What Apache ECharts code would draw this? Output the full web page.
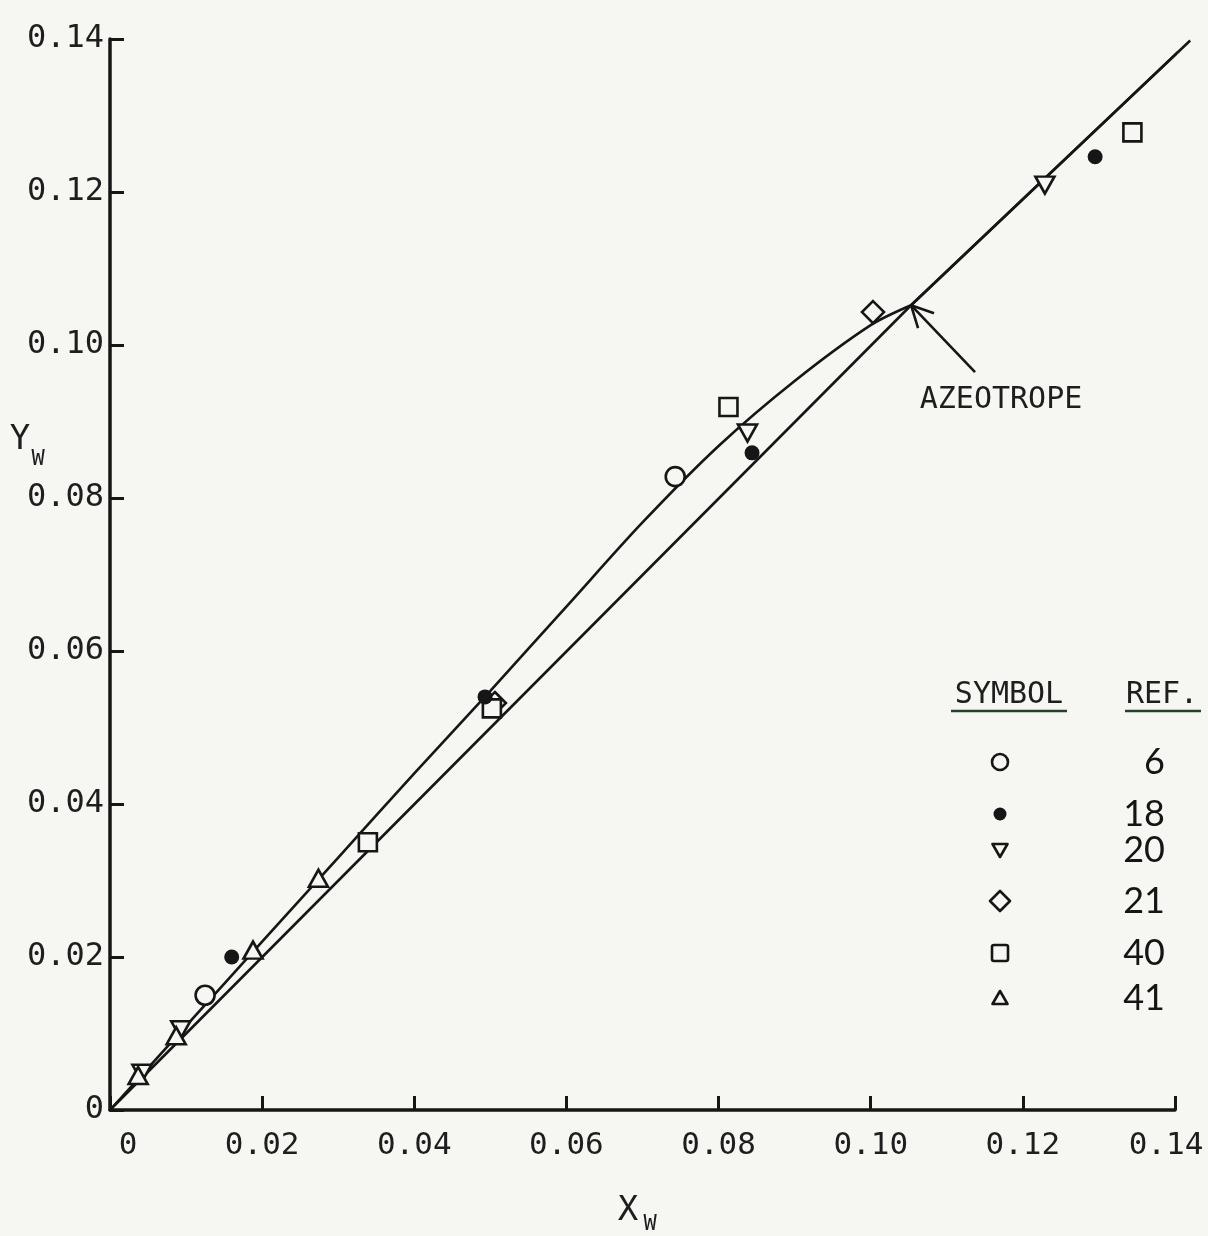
<!DOCTYPE html>
<html>
<head>
<meta charset="utf-8">
<script src="https://cdn.jsdelivr.net/npm/echarts@6/dist/echarts.min.js"></script>
<style>
html,body{margin:0;padding:0;background:#f6f6f3;}
#chart{width:1208px;height:1236px;}
</style>
</head>
<body>
<div id="chart"></div>
<script>
// ---- data ----
const xTicks = [0, 0.02, 0.04, 0.06, 0.08, 0.10, 0.12, 0.14];
const yTicks = [0, 0.02, 0.04, 0.06, 0.08, 0.10, 0.12, 0.14];

// straight line through the azeotrope (last point lies just past the x axis end)
const diagX = [0, 0.1053, 0.1420];
const diagY = [0, 0.1052, 0.1398];

// curved line from origin to azeotrope
const curveX = [0, 0.010, 0.020, 0.030, 0.040, 0.050, 0.060, 0.070, 0.080, 0.090, 0.100, 0.1053];
const curveY = [0, 0.0110, 0.0220, 0.0330, 0.0440, 0.0548, 0.0658, 0.0768, 0.0868, 0.0953, 0.1026, 0.1052];

// symbols by reference
const ref6  = [[0.0125, 0.0150], [0.0743, 0.0828]];                                   // open circle
const ref18 = [[0.0160, 0.0200], [0.0493, 0.0540], [0.0844, 0.0859], [0.1295, 0.1246]]; // filled circle
const ref20 = [[0.1229, 0.1209], [0.0838, 0.0885], [0.0093, 0.0105], [0.0042, 0.0048]]; // inverted triangle
const ref21 = [[0.1003, 0.1043], [0.0506, 0.0532]];                                   // diamond
const ref40 = [[0.0339, 0.0350], [0.0813, 0.0919], [0.1344, 0.1278], [0.0502, 0.0525]]; // square
const ref41 = [[0.0037, 0.0045], [0.0087, 0.0097], [0.0188, 0.0209], [0.0274, 0.0303]]; // triangle

const legendRefs = ['6', '18', '20', '21', '40', '41'];
const azeotrope = [0.1053, 0.1052];

// ---- chart ----
const BG = '#f6f6f3';
const INK = '#161616';
const MONO = '"DejaVu Sans Mono", monospace';

const chart = echarts.init(document.getElementById('chart'), null, {renderer: 'canvas'});

function zip(xs, ys) { return xs.map((x, i) => [x, ys[i]]); }

const hollow = {color: BG, borderColor: INK, borderWidth: 2.6, opacity: 1};

const option = {
  backgroundColor: BG,
  animation: false,
  grid: {left: 110, right: 33, top: 39, bottom: 126, outerBoundsMode: 'none', containLabel: false},
  xAxis: {
    type: 'value', min: 0, max: 0.14, interval: 0.02,
    axisLine: {show: true, lineStyle: {color: INK, width: 3.5}},
    axisTick: {show: true, inside: true, length: 14, lineStyle: {color: INK, width: 3}},
    splitLine: {show: false},
    axisLabel: {
      margin: 20, color: '#1e1e1e', fontFamily: MONO, fontSize: 31,
      formatter: v => {
        const i = xTicks.findIndex(t => Math.abs(t - v) < 1e-9);
        if (i === 0) return '{z|0}';
        if (i === xTicks.length - 1) return '{e|' + xTicks[i].toFixed(2) + '}';
        return i >= 0 ? xTicks[i].toFixed(2) : '';
      },
      rich: {
        z: {fontFamily: MONO, fontSize: 31, color: '#1e1e1e', padding: [0, 0, 0, 36]},
        e: {fontFamily: MONO, fontSize: 31, color: '#1e1e1e', padding: [0, 18, 0, 0]}
      }
    }
  },
  yAxis: {
    type: 'value', min: 0, max: 0.14, interval: 0.02,
    axisLine: {show: true, lineStyle: {color: INK, width: 3.5}},
    axisTick: {show: true, inside: true, length: 14, lineStyle: {color: INK, width: 3}},
    splitLine: {show: false},
    axisLabel: {
      margin: 6, color: '#1e1e1e', fontFamily: MONO, fontSize: 32,
      formatter: v => {
        const i = yTicks.findIndex(t => Math.abs(t - v) < 1e-9);
        if (i === 0) return '0';
        return i >= 0 ? yTicks[i].toFixed(2) : '';
      }
    }
  },
  series: [
    {type: 'line', data: zip(diagX, diagY), symbol: 'none', clip: false, lineStyle: {color: INK, width: 2.6}, z: 2},
    {type: 'line', data: zip(curveX, curveY), symbol: 'none', smooth: 0.3, clip: false, lineStyle: {color: INK, width: 2.6}, z: 2},
    {type: 'scatter', name: '6', data: ref6, symbol: 'circle', symbolSize: 19, itemStyle: hollow, z: 5},
    {type: 'scatter', name: '18', data: ref18, symbol: 'circle', symbolSize: 15, itemStyle: {color: INK, opacity: 1}, z: 6},
    {type: 'scatter', name: '20', data: ref20, symbol: 'triangle', symbolRotate: 180, symbolSize: [19, 17], itemStyle: hollow, z: 5},
    {type: 'scatter', name: '21', data: ref21, symbol: 'diamond', symbolSize: [22, 22], itemStyle: hollow, z: 5},
    {type: 'scatter', name: '40', data: ref40, symbol: 'rect', symbolSize: 18, itemStyle: hollow, z: 5},
    {type: 'scatter', name: '41', data: ref41, symbol: 'triangle', symbolSize: [19, 17], itemStyle: hollow, z: 5}
  ]
};
chart.setOption(option);

// ---- annotations & legend ----
const head = chart.convertToPixel({gridIndex: 0}, azeotrope);
const tail = [head[0] + 64, head[1] + 67];
// extension of the straight line past the axis end (the series is clipped at the grid)
const n = diagX.length;
const extA = chart.convertToPixel({gridIndex: 0}, [diagX[n - 2], diagY[n - 2]]);
const extB = chart.convertToPixel({gridIndex: 0}, [diagX[n - 1], diagY[n - 1]]);

function txt(text, x, y, size, opts) {
  return {
    type: 'text', z: 20,
    style: Object.assign({text: text, x: x, y: y, font: size + 'px ' + MONO, fill: '#1e1e1e',
      align: 'center', verticalAlign: 'middle'}, opts || {})
  };
}
function ln(x1, y1, x2, y2, color, w, z) {
  return {type: 'line', z: z || 20, shape: {x1, y1, x2, y2}, style: {stroke: color || INK, lineWidth: w || 2.6}};
}

const legendYs = [762, 814, 850, 901, 953, 998];
const legendSym = [];
const lx = 1000;
legendSym.push({type: 'circle', z: 20, shape: {cx: lx, cy: legendYs[0], r: 8}, style: {fill: BG, stroke: INK, lineWidth: 2.6}});
legendSym.push({type: 'circle', z: 20, shape: {cx: lx, cy: legendYs[1], r: 6.5}, style: {fill: INK}});
legendSym.push({type: 'polygon', z: 20, shape: {points: [[lx - 7.5, legendYs[2] - 6], [lx + 7.5, legendYs[2] - 6], [lx, legendYs[2] + 7]]}, style: {fill: BG, stroke: INK, lineWidth: 2.6, lineJoin: 'round'}});
legendSym.push({type: 'polygon', z: 20, shape: {points: [[lx, legendYs[3] - 10], [lx + 10, legendYs[3]], [lx, legendYs[3] + 10], [lx - 10, legendYs[3]]]}, style: {fill: BG, stroke: INK, lineWidth: 2.6, lineJoin: 'round'}});
legendSym.push({type: 'rect', z: 20, shape: {x: lx - 8, y: legendYs[4] - 8, width: 16, height: 16, r: 2}, style: {fill: BG, stroke: INK, lineWidth: 2.6}});
legendSym.push({type: 'polygon', z: 20, shape: {points: [[lx, legendYs[5] - 7], [lx + 7.5, legendYs[5] + 6], [lx - 7.5, legendYs[5] + 6]]}, style: {fill: BG, stroke: INK, lineWidth: 2.6, lineJoin: 'round'}});

const legendTexts = legendRefs.map((r, i) => ({
  type: 'text', z: 20,
  style: {text: r, x: 1165, y: legendYs[i], font: '36px Lato, "Noto Sans", sans-serif', fill: '#151515',
    align: 'right', verticalAlign: 'middle'}
}));

const graphics = [
  ln(extA[0], extA[1], extB[0], extB[1], INK, 2.6, 1),
  txt('Y', 20, 440, 34),
  txt('W', 38, 459, 22),
  txt('X', 628, 1211, 34),
  txt('W', 650, 1224, 22),
  ln(tail[0], tail[1], head[0], head[1], INK, 2.6),
  ln(head[0], head[1], head[0] + 7, head[1] + 23, INK, 2.6),
  ln(head[0], head[1], head[0] + 23, head[1] + 8, INK, 2.6),
  txt('AZEOTROPE', 1001, 400, 30),
  txt('SYMBOL', 1009, 695, 30),
  ln(951, 711, 1067, 711, '#24432a', 2.6),
  txt('REF.', 1162, 695, 30),
  ln(1125, 711, 1201, 711, '#24432a', 2.6)
].concat(legendSym, legendTexts);

chart.setOption({graphic: graphics});
</script>
</body>
</html>
